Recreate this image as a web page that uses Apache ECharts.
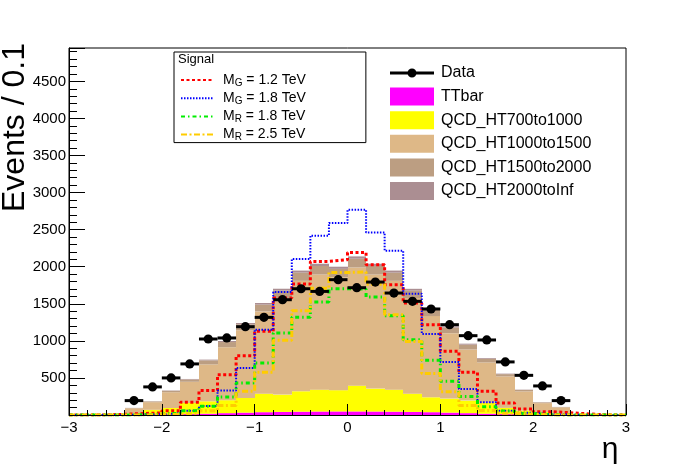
<!DOCTYPE html>
<html><head><meta charset="utf-8">
<script src="https://cdn.jsdelivr.net/npm/echarts@6/dist/echarts.min.js"></script>
<style>html,body{margin:0;padding:0;background:#fff}#c{width:696px;height:472px}</style>
</head><body><div id="c"></div>
<script>
// ---- data ----
const binCenters = [-2.9,-2.7,-2.5,-2.3,-2.1,-1.9,-1.7,-1.5,-1.3,-1.1,-0.9,-0.7,-0.5,-0.3,-0.1,0.1,0.3,0.5,0.7,0.9,1.1,1.3,1.5,1.7,1.9,2.1,2.3,2.5,2.7,2.9];
const binWidth = 0.2;
const ttbar   = [0,0,0,3,5,8,12,18,25,32,38,42,45,47,48,48,47,45,42,38,32,25,18,12,8,5,3,0,0,0];
const qcd700  = [0,0,0,17,65,86,150,167,175,198,250,233,275,295,287,348,309,297,246,201,189,169,145,84,52,35,17,0,0,0];
const qcd1000 = [0,0,0,70,103,213,286,497,714,913,1109,1303,1490,1553,1524,1594,1539,1468,1289,1095,883,690,546,425,258,120,83,0,0,0];
const qcd1500 = [0,0,0,5,10,20,32,55,70,80,92,100,110,115,112,118,115,110,100,88,75,65,50,30,20,10,5,0,0,0];
const qcd2000 = [0,0,0,1,2,4,6,10,14,18,22,25,28,30,29,31,30,28,25,21,17,13,10,7,4,2,1,0,0,0];
const dataObs = [0,0,0,194,379,500,689,1025,1039,1191,1317,1555,1703,1667,1825,1717,1793,1645,1533,1430,1218,1070,1012,716,535,392,194,0,0,0];
const sigG12  = [0,0,10,20,28,59,171,329,544,800,1128,1578,1767,2072,2094,2193,2027,1757,1511,1218,859,576,320,163,82,45,30,15,0,0];
const sigG18  = [0,0,0,5,10,25,59,120,329,635,1151,1659,2104,2418,2589,2768,2462,2216,1636,1093,716,352,172,59,30,10,5,0,0,0];
const sigR18  = [0,0,0,5,10,25,59,117,244,432,702,1106,1317,1524,1703,1700,1592,1340,1016,737,454,248,110,55,20,5,0,0,0,0];
const sigR25  = [0,0,0,0,5,10,25,59,127,320,578,1007,1405,1710,1922,1929,1765,1353,993,560,315,127,60,25,10,0,0,0,0,0];
const stackNames = ['TTbar','QCD_HT700to1000','QCD_HT1000to1500','QCD_HT1500to2000','QCD_HT2000toInf'];
const signalNames = ['M_G = 1.2 TeV','M_G = 1.8 TeV','M_R = 1.8 TeV','M_R = 2.5 TeV'];
const xMin = -3, xMax = 3, yMax = 4950;

// ---- styles ----
const FONT = "'Liberation Sans', Arial, Helvetica, sans-serif";
const stackColors = ['#ff00ff','#ffff00','#deb887','#bc9e82','#ab8e92'];
const stackData = [ttbar, qcd700, qcd1000, qcd1500, qcd2000];
const sigData = [sigG12, sigG18, sigR18, sigR25];
const sigStyles = [
  {color:'#ff0000', width:3, type:[3,2.5]},
  {color:'#0000ff', width:2, type:[1.5,1.5]},
  {color:'#00ee00', width:3, type:[4,3,1.5,3]},
  {color:'#ffcc00', width:3, type:[6,2.5,2,2.5]}
];

const chart = echarts.init(document.getElementById('c'), null, {renderer:'canvas'});

let base = binCenters.map(() => 0);
const stackSeries = stackNames.map((name, k) => {
  const items = binCenters.map((c, i) => [c, base[i], base[i] + stackData[k][i]]);
  base = items.map(it => it[2]);
  const color = stackColors[k];
  return {
    type: 'custom', name, coordinateSystem: 'cartesian2d', clip: true, z: 2,
    itemStyle: {color}, encode: {x: 0, y: 2}, data: items,
    renderItem: (params, api) => {
      const c = api.value(0), b = api.value(1), t = api.value(2);
      if (t <= b) return null;
      const p0 = api.coord([c - binWidth / 2, t]);
      const p1 = api.coord([c + binWidth / 2, b]);
      const x0 = Math.round(p0[0]), x1 = Math.round(p1[0]);
      return {type: 'rect', shape: {x: x0, y: p0[1], width: x1 - x0, height: p1[1] - p0[1]},
              style: {fill: color}};
    }
  };
});

function stepPoints(vals) {
  const pts = vals.map((v, i) => [binCenters[i] - binWidth / 2, v]);
  pts.push([binCenters[binCenters.length - 1] + binWidth / 2, vals[vals.length - 1]]);
  return pts;
}
const signalSeries = signalNames.map((name, k) => ({
  type: 'line', name, data: stepPoints(sigData[k]), step: 'end', symbol: 'none', showSymbol: false,
  z: 4, clip: true,
  lineStyle: {color: sigStyles[k].color, width: sigStyles[k].width, type: sigStyles[k].type, cap: 'butt'},
  itemStyle: {color: sigStyles[k].color}
}));

const dataItems = [];
binCenters.forEach((c, i) => { if (dataObs[i] > 0) dataItems.push([c, dataObs[i]]); });
const dataSeries = {
  type: 'custom', name: 'Data', coordinateSystem: 'cartesian2d', z: 6, clip: true,
  itemStyle: {color: '#000'}, encode: {x: 0, y: 1}, data: dataItems,
  renderItem: (params, api) => {
    const c = api.value(0), v = api.value(1), e = Math.sqrt(v);
    const pc = api.coord([c, v]);
    const pl = api.coord([c - binWidth / 2, v]), pr = api.coord([c + binWidth / 2, v]);
    const pt = api.coord([c, v + e]), pb = api.coord([c, v - e]);
    return {type: 'group', children: [
      {type: 'line', shape: {x1: pl[0], y1: pl[1], x2: pr[0], y2: pr[1]}, style: {stroke: '#000', lineWidth: 3}},
      {type: 'line', shape: {x1: pt[0], y1: pt[1], x2: pb[0], y2: pb[1]}, style: {stroke: '#000', lineWidth: 2}},
      {type: 'circle', shape: {cx: pc[0], cy: pc[1], r: 4.6}, style: {fill: '#000'}}
    ]};
  }
};

const dataIcon = 'path://M0,0h0.1v0.1h-0.1Z M43.9,17.9h0.1v0.1h-0.1Z M0,7.5h44v3h-44Z M17.5,9a4.5,4.5 0 1,1 9,0a4.5,4.5 0 1,1 -9,0Z';

const option = {
  animation: false,
  backgroundColor: '#fff',
  grid: {left: 69, right: 70, top: 48, bottom: 57, show: true, borderColor: '#000', borderWidth: 1, backgroundColor: 'transparent'},
  xAxis: {
    type: 'value', min: xMin, max: xMax, interval: 1, z: 10,
    axisLine: {show: true, onZero: false, lineStyle: {color: '#000', width: 1}},
    axisTick: {show: true, inside: true, length: 11, lineStyle: {color: '#000'}},
    minorTick: {show: true, splitNumber: 5, length: 5, lineStyle: {color: '#000'}},
    splitLine: {show: false},
    axisLabel: {color: '#000', fontSize: 15, fontFamily: FONT, margin: 5,
      formatter: v => v < 0 ? '\u2212' + Math.abs(v) : String(v)}
  },
  yAxis: {
    type: 'value', min: 0, max: yMax, interval: 500, z: 10,
    axisLine: {show: true, onZero: false, lineStyle: {color: '#000', width: 1}},
    axisTick: {show: true, inside: true, length: 16, lineStyle: {color: '#000'}},
    minorTick: {show: true, splitNumber: 5, length: 8, lineStyle: {color: '#000'}},
    splitLine: {show: false},
    axisLabel: {color: '#000', fontSize: 15, fontFamily: FONT, margin: 3,
      formatter: v => (v > 0 && v % 500 === 0) ? String(v) : ''}
  },
  title: {text: 'Signal', left: 178, top: 53, padding: 0,
    textStyle: {fontSize: 13, fontWeight: 'normal', fontFamily: FONT, color: '#000'}},
  legend: [
    {
      id: 'sig', data: signalNames, orient: 'vertical', left: 174, top: 52,
      padding: [21, 60, 0, 6], itemWidth: 33, itemHeight: 16, itemGap: 3.2,
      borderColor: '#000', borderWidth: 1, backgroundColor: '#fff',
      selectedMode: false,
      itemStyle: {opacity: 0},
      textStyle: {fontFamily: FONT, fontSize: 14, color: '#000', padding: [0, 0, 0, 4],
        rich: {
          n: {fontFamily: FONT, fontSize: 14, color: '#000', lineHeight: 16},
          s: {fontFamily: FONT, fontSize: 10, color: '#000', lineHeight: 10, verticalAlign: 'bottom'}
        }},
      formatter: name => {
        const m = name.match(/^M_(\w) (.*)$/);
        return m ? '{n|M}{s|' + m[1] + '}{n| ' + m[2] + '}' : name;
      }
    },
    {
      id: 'bkg', orient: 'vertical', left: 390, top: 64, padding: 0,
      itemWidth: 44, itemHeight: 18, itemGap: 5.6, selectedMode: false,
      data: [{name: 'Data', icon: dataIcon}].concat(stackNames.map(n => ({name: n, icon: 'rect'}))),
      textStyle: {fontFamily: FONT, fontSize: 16, color: '#000', padding: [0, 0, 0, 2]}
    }
  ],
  graphic: [
    {type: 'text', x: 15, y: 43, rotation: Math.PI / 2, z: 100,
      style: {text: 'Events / 0.1', fontSize: 32, fontFamily: FONT, fill: '#000', align: 'right', verticalAlign: 'middle'}},
    {type: 'text', x: 610, y: 450, z: 100,
      style: {text: '\u03b7', fontSize: 30, fontFamily: FONT, fill: '#000', align: 'center', verticalAlign: 'middle'}}
  ],
  series: stackSeries.concat(signalSeries, [dataSeries])
};
chart.setOption(option);
</script>
</body></html>
